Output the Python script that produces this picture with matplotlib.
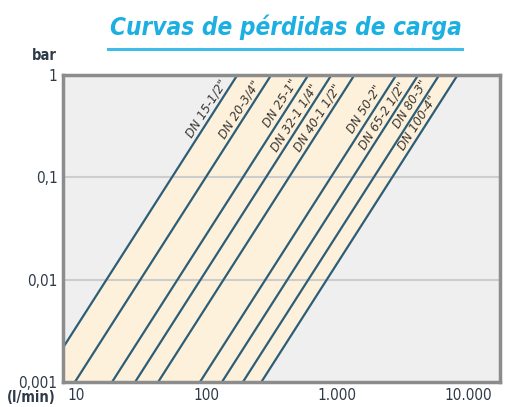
import numpy as np
import matplotlib.pyplot as plt

# pressure drop curves, dp = (Q / Q1)^2 with Q1 the flow (l/min) giving 1 bar
sizes = ['DN 15-1/2"', 'DN 20-3/4"', 'DN 25-1"', 'DN 32-1 1/4"', 'DN 40-1 1/2"',
         'DN 50-2"', 'DN 65-2 1/2"', 'DN 80-3"', 'DN 100-4"']
flow_at_1bar = [172, 312, 600, 900, 1350, 2820, 4150, 6000, 8300]
label_bar = [0.43, 0.42, 0.48, 0.35, 0.35, 0.42, 0.36, 0.47, 0.31]

x_ticks = [10, 100, 1000, 10000]
x_labels = ['10', '100', '1.000', '10.000']
y_ticks = [0.001, 0.01, 0.1, 1]
y_labels = ['0,001', '0,01', '0,1', '1']

ink = '#2e3a48'
line_col = '#2d5e78'
cond = dict(family='DejaVu Sans', stretch='condensed')

fig = plt.figure(figsize=(5.06, 4.07), dpi=100)
ax = fig.add_axes([63 / 506, 25 / 407, 437 / 506, 307 / 407])
ax.set_xscale('log')
ax.set_yscale('log')
ax.set_xlim(8, 17500)
ax.set_ylim(0.001, 1)
ax.set_facecolor('#efefef')

for s in ax.spines.values():
    s.set_color('#8c8c8c')
    s.set_linewidth(2.5)

# grid lines
for v in y_ticks[1:-1]:
    ax.axhline(v, color='#cdcdcd', lw=1.5, zorder=1.5)

q = np.logspace(0, 5, 400)
curves = [(q / q1) ** 2 for q1 in flow_at_1bar]

# cream band between the smallest and biggest pipe
ax.fill_between(q, curves[-1], curves[0], color='#fdf1dc', zorder=1)

for c in curves:
    ax.plot(q, c, color=line_col, lw=1.6, zorder=2)

# labels along each line
for name, q1, dp in zip(sizes, flow_at_1bar, label_bar):
    qx = q1 * np.sqrt(dp)
    p0 = ax.transData.transform((qx, dp))
    p1 = ax.transData.transform((qx * 2, dp * 4))
    ang = np.degrees(np.arctan2(p1[1] - p0[1], p1[0] - p0[0]))
    nx, ny = -np.sin(np.radians(ang)), np.cos(np.radians(ang))
    ax.annotate(name, (qx, dp), xytext=(nx * 1.0, ny * 1.0), textcoords='offset points',
                rotation=ang, rotation_mode='anchor', ha='center', va='bottom',
                fontsize=9.5, style='italic', color='#3a3530', zorder=3, **cond)

ax.set_xticks(x_ticks)
ax.set_xticklabels(x_labels)
ax.set_yticks(y_ticks)
ax.set_yticklabels(y_labels)
ax.minorticks_off()
ax.tick_params(length=0, labelsize=11, labelcolor=ink, pad=4)
for t in ax.get_xticklabels() + ax.get_yticklabels():
    t.set_family(cond['family'])
    t.set_stretch(cond['stretch'])

fig.text(44 / 506, 1 - 55 / 407, 'bar', ha='center', va='center', fontsize=10.5,
         fontweight='bold', color=ink, **cond)
fig.text(31 / 506, 1 - 398 / 407, '(l/min)', ha='center', va='center', fontsize=10.5,
         fontweight='bold', color=ink, **cond)

# title with underline
fig.text(286 / 506, 1 - 27 / 407, 'Curvas de pérdidas de carga', ha='center', va='center',
         fontsize=17.5, fontweight='bold', style='italic', color='#1cb0e2', **cond)
fig.add_artist(plt.Line2D([108 / 506, 462 / 506], [1 - 49 / 407, 1 - 49 / 407],
                          color='#3fbde6', lw=2.2))

fig.savefig('out.png', dpi=100)
